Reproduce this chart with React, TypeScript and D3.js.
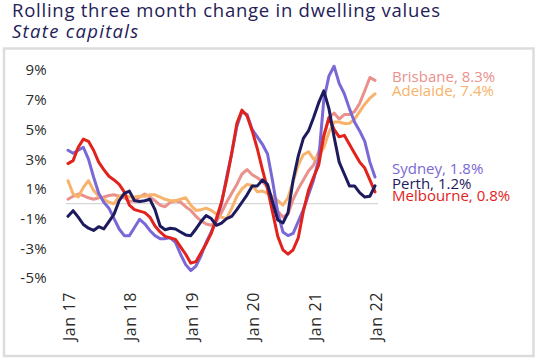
import React from "react";
import * as d3 from "d3";

const months: string[] = d3.range(61).map((i) => {
  const d = new Date(2017, i, 1);
  return d3.timeFormat("%b %y")(d);
});

const tickLabels = ["Jan 17", "Jan 18", "Jan 19", "Jan 20", "Jan 21", "Jan 22"];
const yTicks = [-5, -3, -1, 1, 3, 5, 7, 9];

const sydney = [3.6, 3.4, 3.6, 3.8, 3.0, 1.8, 0.7, 0.1, -0.3, -1.0,
  -1.7, -2.15, -2.15, -1.6, -1.05, -1.35, -1.8, -2.15, -2.35, -2.35,
  -2.3, -2.6, -3.4, -4.1, -4.5, -4.2, -3.5, -2.6, -1.9, -1.1,
  0.0, 1.8, 3.4, 5.2, 6.2, 6.0, 5.0, 4.5, 4.0, 3.35,
  1.5, -0.6, -1.9, -2.15, -2.0, -1.2, -0.4, 0.6, 1.6, 3.0,
  7.0, 8.6, 9.25, 8.1, 7.4, 6.4, 5.5, 4.9, 4.2, 2.8, 1.8];

const melbourne = [2.7, 2.9, 3.8, 4.35, 4.2, 3.6, 2.8, 2.3, 1.85, 1.6,
  1.3, 0.8, -0.1, -0.4, -0.5, -0.6, -0.9, -1.5, -1.9, -2.2,
  -2.3, -2.4, -2.9, -3.4, -4.0, -3.9, -3.3, -2.7, -2.0, -1.0,
  0.1, 1.6, 3.4, 5.4, 6.3, 5.9, 4.9, 3.7, 2.3, 1.0,
  -0.6, -2.2, -3.1, -3.4, -3.1, -2.3, -0.5, 0.9, 1.8, 2.6,
  4.6, 5.8, 5.0, 4.5, 4.6, 4.0, 3.4, 2.8, 2.4, 1.6, 0.8];

const brisbane = [0.3, 0.5, 0.65, 0.55, 0.4, 0.3, 0.4, 0.45, 0.55, 0.6,
  0.5, 0.4, 0.15, 0.2, 0.45, 0.65, 0.45, 0.2, -0.1, -0.2,
  0.1, 0.2, 0.1, -0.2, -0.45, -0.85, -1.15, -1.37, -1.45, -1.2,
  -0.6, 0.1, 0.7, 1.3, 2.0, 2.3, 1.95, 1.75, 1.5, 1.1,
  0.2, -0.5, -0.9, -0.7, 0.3, 1.0, 1.6, 2.2, 2.6, 3.5,
  4.5, 5.8, 6.1, 5.7, 6.0, 6.0, 6.2, 6.75, 7.6, 8.5, 8.3];

const adelaide = [1.55, 0.65, 0.45, 1.1, 1.55, 0.9, 0.5, 0.3, 0.1, 0.0,
  0.5, 0.6, 0.45, 0.45, 0.5, 0.5, 0.6, 0.6, 0.45, 0.3,
  0.2, 0.2, 0.3, 0.4, -0.1, -0.45, -0.4, -0.3, -0.45, -0.7,
  -0.9, -1.0, -0.3, 0.5, 1.0, 1.3, 1.25, 0.8, 0.85, 0.7,
  0.5, 0.2, -0.1, 0.4, 1.5, 2.6, 3.3, 3.5, 3.0, 3.2,
  3.8, 4.8, 5.5, 5.5, 5.4, 5.4, 5.7, 6.2, 6.7, 7.1, 7.4];

const perth = [-0.85, -0.47, -0.9, -1.4, -1.65, -1.8, -1.55, -1.7, -1.2, -0.7,
  0.2, 0.7, 0.85, 0.2, 0.15, 0.2, 0.3, -0.4, -1.5, -1.75,
  -1.65, -1.7, -1.9, -2.1, -2.15, -1.7, -1.2, -0.8, -1.0, -1.45,
  -1.3, -1.0, -0.85, -0.4, 0.1, 0.6, 1.2, 1.2, 1.6, 1.3,
  0.1, -1.1, -1.3, -0.6, 1.6, 3.2, 4.4, 4.9, 5.8, 6.8,
  7.6, 6.4, 4.5, 2.8, 2.0, 1.2, 1.2, 0.75, 0.45, 0.5, 1.2];

const seriesNames = ["Brisbane", "Adelaide", "Sydney", "Melbourne", "Perth"];
const seriesValues = [brisbane, adelaide, sydney, melbourne, perth];
const seriesColors = ["#ea918c", "#f7b36b", "#7a68d6", "#e2231c", "#1d1b5e"];
const labelNames = ["Brisbane", "Adelaide", "Sydney", "Perth", "Melbourne"];
const labelValues = ["8.3%", "7.4%", "1.8%", "1.2%", "0.8%"];
const labelColors = ["#ea918c", "#f7b36b", "#7a68d6", "#1d1b5e", "#e2231c"];
const labelY = [81.5, 95.5, 174, 188.5, 201];

const W = 537;
const H = 362;
const FONT = "'Open Sans', sans-serif";

export default function App() {
  const x = d3.scaleLinear().domain([0, months.length - 1]).range([68, 375]);
  const y = d3.scaleLinear().domain([-5, 9]).range([278, 70]);
  const line = d3
    .line<number>()
    .x((_, i) => x(i))
    .y((d) => y(d))
    .curve(d3.curveLinear);

  return (
    <svg
      width={W}
      height={H}
      style={{ position: "absolute", left: 0, top: 0, background: "#fff" }}
      fontFamily={FONT}
    >
      <rect x={0} y={0} width={W} height={H} fill="#fff" />
      <text x={12} y={17} fontSize={18.5} letterSpacing={0.75} fill="#1f2157">
        Rolling three month change in dwelling values
      </text>
      <text
        x={12}
        y={38}
        fontSize={18.5}
        letterSpacing={1.3}
        fontStyle="italic"
        fill="#1f2157"
      >
        State capitals
      </text>
      <rect
        x={4}
        y={48.5}
        width={529.5}
        height={307.5}
        fill="none"
        stroke="#dcdcdc"
        strokeWidth={2.5}
      />
      {yTicks.map((t) => (
        <text
          key={t}
          x={47}
          y={y(t)}
          dy="0.36em"
          textAnchor="end"
          fontSize={15}
          letterSpacing={0.3}
          fill="#2b2b2b"
        >
          {`${t}%`}
        </text>
      ))}
      {tickLabels.map((lab, k) => {
        const px = x(k * 12) + 7;
        return (
          <text
            key={lab}
            transform={`translate(${px},292) rotate(-90)`}
            textAnchor="end"
            fontSize={16}
            letterSpacing={0.6}
            fill="#2b2b2b"
          >
            {lab}
          </text>
        );
      })}
      <line
        x1={66}
        x2={378}
        y1={y(0)}
        y2={y(0)}
        stroke="#cccccc"
        strokeWidth={1}
      />
      {seriesValues.map((vals, k) => (
        <path
          key={seriesNames[k]}
          d={line(vals) || ""}
          fill="none"
          stroke={seriesColors[k]}
          strokeWidth={3}
          strokeLinejoin="round"
          strokeLinecap="round"
        />
      ))}
      {labelNames.map((n, k) => (
        <text key={n} x={392} y={labelY[k]} fontSize={15} fill={labelColors[k]}>
          {`${n}, ${labelValues[k]}`}
        </text>
      ))}
    </svg>
  );
}
